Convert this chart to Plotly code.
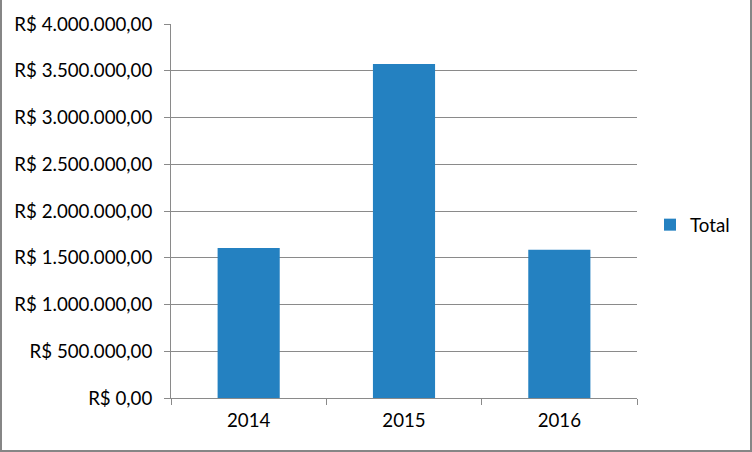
import plotly.graph_objects as go

years = ["2014", "2015", "2016"]
totals = [1605000, 3571000, 1585000]
tick_values = [0, 500000, 1000000, 1500000, 2000000, 2500000, 3000000, 3500000, 4000000]
tick_labels = ["R$ 0,00", "R$ 500.000,00", "R$ 1.000.000,00", "R$ 1.500.000,00",
               "R$ 2.000.000,00", "R$ 2.500.000,00", "R$ 3.000.000,00",
               "R$ 3.500.000,00", "R$ 4.000.000,00"]

W, H = 752, 452
L, R, T, B = 171, 115, 24, 54
pw, ph = W - L - R, H - T - B

fig = go.Figure()
fig.add_trace(go.Bar(x=years, y=totals, name="Total", marker_color="#2481c1",
                     marker_line_width=0))

grid = "#8a8a8a"
font = dict(family="Lato, Carlito, Calibri, sans-serif", size=18.7, color="#000000")

fig.update_layout(
    width=W, height=H,
    margin=dict(l=L, r=R, t=T, b=B, pad=0, autoexpand=False),
    paper_bgcolor="white", plot_bgcolor="white",
    font=font,
    bargap=0.6,
    showlegend=True,
    legend=dict(xref="container", yref="container", x=650 / W, y=1 - 225 / H,
                xanchor="left", yanchor="middle", font=dict(size=18.7),
                itemwidth=30, bgcolor="rgba(0,0,0,0)", borderwidth=0),
    xaxis=dict(showline=True, linecolor=grid, linewidth=1, ticks="outside",
               ticklen=6, tickcolor=grid, showgrid=False, tickson="boundaries",
               ticklabelstandoff=6, mirror=False),
    yaxis=dict(range=[0, 4000000], tickvals=tick_values, ticktext=tick_labels,
               showgrid=True, gridcolor=grid, gridwidth=1, showline=True,
               linecolor=grid, linewidth=1, ticks="outside", ticklen=6,
               tickcolor=grid, ticklabelstandoff=8, zeroline=False),
)

# outer chart frame
fig.add_shape(type="rect", xref="paper", yref="paper",
              x0=(1 - L) / pw, x1=(W - 1 - L) / pw,
              y0=-(B - 1) / ph, y1=(H - T - 1) / ph,
              line=dict(color="#868686", width=2), layer="above")

fig.write_html(
    "out.html",
    config={"displayModeBar": False},
    post_script=("document.documentElement.style.margin='0';"
                 "document.documentElement.style.overflow='hidden';"
                 "document.body.style.margin='0';"
                 "document.body.style.overflow='hidden';"),
)
